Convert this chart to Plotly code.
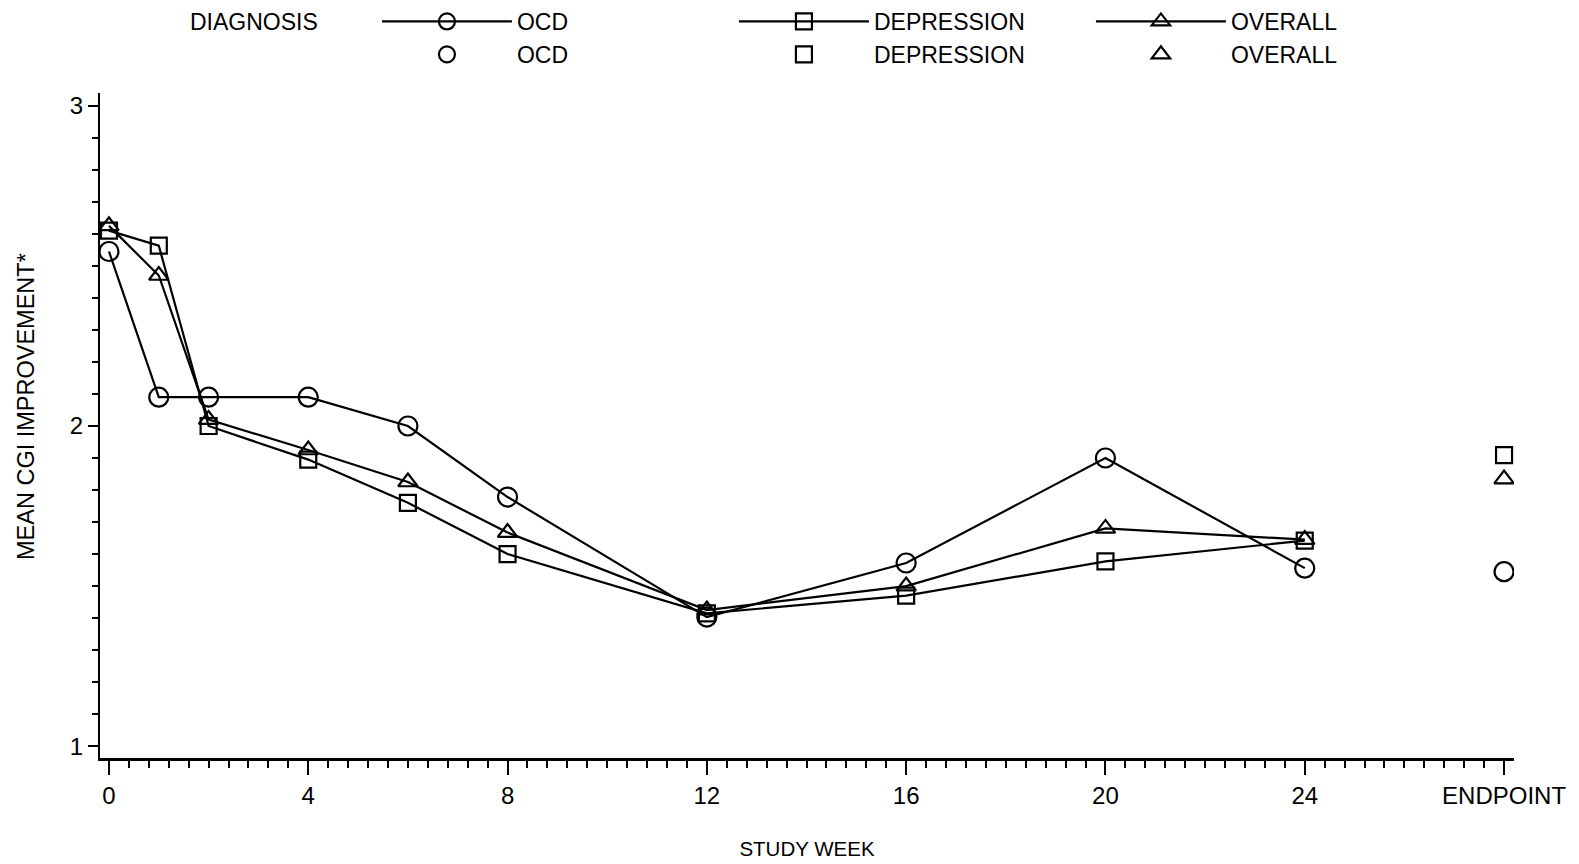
import plotly.graph_objects as go

weeks = [0, 1, 2, 4, 6, 8, 12, 16, 20, 24]
ocd = [2.545, 2.09, 2.09, 2.09, 2.00, 1.778, 1.403, 1.572, 1.90, 1.556]
depression = [2.61, 2.563, 2.00, 1.895, 1.76, 1.60, 1.415, 1.470, 1.577, 1.642]
overall = [2.625, 2.47, 2.02, 1.925, 1.825, 1.667, 1.425, 1.500, 1.680, 1.645]

endpoint_x = [28]
ocd_end = [1.545]
depression_end = [1.909]
overall_end = [1.834]

tick_vals = [0, 4, 8, 12, 16, 20, 24, 28]
tick_text = ["0", "4", "8", "12", "16", "20", "24", "ENDPOINT"]

FONT = "Liberation Sans, Arial, Helvetica, sans-serif"
BLACK = "#000000"

series = [
    ("OCD", ocd, ocd_end, "circle-open", 19),
    ("DEPRESSION", depression, depression_end, "square-open", 16),
    ("OVERALL", overall, overall_end, "triangle-up-open", 17),
]

fig = go.Figure()
for name, vals, _, sym, sz in series:
    fig.add_trace(go.Scatter(
        x=weeks, y=vals, name=name, mode="lines+markers",
        line=dict(color=BLACK, width=2.2),
        marker=dict(symbol=sym, size=sz, color=BLACK, line=dict(color=BLACK, width=2.2)),
    ))
for name, _, end, sym, sz in series:
    fig.add_trace(go.Scatter(
        x=endpoint_x, y=end, name=name, mode="markers",
        marker=dict(symbol=sym, size=sz, color=BLACK, line=dict(color=BLACK, width=2.2)),
    ))

fig.update_layout(
    width=1579, height=864,
    margin=dict(l=100, r=65, t=93, b=106, autoexpand=False),
    paper_bgcolor="white", plot_bgcolor="white",
    font=dict(family=FONT, size=24, color=BLACK),
    showlegend=True,
    legend=dict(
        orientation="h",
        xref="container", yref="container",
        x=188 / 1579, xanchor="left",
        y=1.0, yanchor="top",
        title=dict(text="DIAGNOSIS" + "\u00a0" * 8, side="left",
                   font=dict(size=23)),
        font=dict(size=23),
        itemwidth=130,
        entrywidth=212,
        entrywidthmode="pixels",
        tracegroupgap=0,
        bgcolor="rgba(0,0,0,0)",
    ),
    xaxis=dict(
        range=[-0.18, 28.2],
        automargin=False,
        tickmode="array", tickvals=tick_vals, ticktext=tick_text,
        ticks="outside", ticklen=14, tickwidth=2, tickcolor=BLACK,
        showline=True, linecolor=BLACK, linewidth=3,
        showgrid=False, zeroline=False,
        tickfont=dict(size=24),
        minor=dict(tickmode="linear", tick0=0, dtick=0.4, ticks="outside",
                   ticklen=7, tickwidth=2, tickcolor=BLACK, showgrid=False),
        title=dict(text="STUDY WEEK", font=dict(size=20.5), standoff=34),
    ),
    yaxis=dict(
        range=[0.963, 3.04],
        automargin=False,
        tickmode="array", tickvals=[1, 2, 3], ticktext=["1", "2", "3"],
        ticks="outside", ticklen=10, tickwidth=2, tickcolor=BLACK,
        showline=True, linecolor=BLACK, linewidth=2,
        showgrid=False, zeroline=False,
        tickfont=dict(size=24),
        minor=dict(tickmode="linear", tick0=1, dtick=0.1, ticks="outside",
                   ticklen=6, tickwidth=2, tickcolor=BLACK, showgrid=False),
    ),
    annotations=[dict(
        text="MEAN CGI IMPROVEMENT*", textangle=-90,
        xref="paper", yref="paper",
        x=(26 - 100) / 1414, y=(758 - 407) / 665,
        xanchor="center", yanchor="middle", showarrow=False,
        font=dict(size=23.5, family=FONT, color=BLACK),
    )],
)

fig.write_html("out.html")
